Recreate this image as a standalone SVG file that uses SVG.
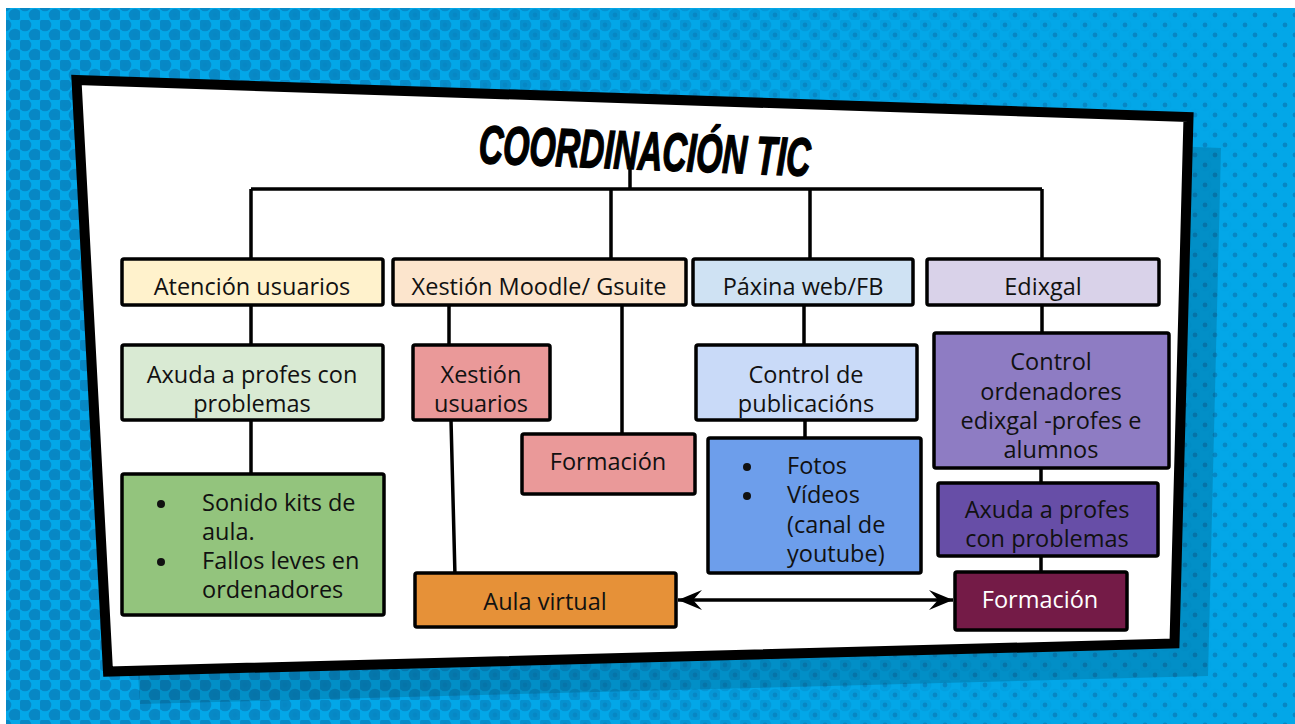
<svg xmlns="http://www.w3.org/2000/svg" width="1295" height="724" viewBox="0 0 1295 724">
<style>
.box{stroke:#000;stroke-width:3.5;stroke-linejoin:round}
.t{font-family:"Open Sans",Lato,"Liberation Sans",sans-serif;font-size:23.5px;fill:#111;text-anchor:middle}
.tl{font-family:"Open Sans",Lato,"Liberation Sans",sans-serif;font-size:23.5px;fill:#111}
.w{fill:#fff}
.ln{stroke:#000;stroke-width:3.5;fill:none}
</style>
<defs>
<pattern id="big" width="20" height="20" patternUnits="userSpaceOnUse">
<circle cx="5" cy="5" r="6.3" fill="#0787c4"/><circle cx="15" cy="15" r="6.3" fill="#0787c4"/>
</pattern>
<pattern id="small" width="20" height="20" patternUnits="userSpaceOnUse">
<circle cx="5" cy="5" r="2.4" fill="#0787c4"/><circle cx="15" cy="15" r="2.4" fill="#0787c4"/>
</pattern>
<linearGradient id="fade" x1="0" y1="0" x2="1" y2="0">
<stop offset="0" stop-color="#fff" stop-opacity="1"/>
<stop offset="0.3" stop-color="#fff" stop-opacity="0.9"/>
<stop offset="0.75" stop-color="#fff" stop-opacity="0.2"/>
<stop offset="1" stop-color="#fff" stop-opacity="0"/>
</linearGradient>
<mask id="m"><rect x="0" y="0" width="1295" height="724" fill="url(#fade)"/></mask>
<marker id="arr" markerUnits="userSpaceOnUse" markerWidth="30" markerHeight="24" viewBox="-26 -12 30 24" refX="0" refY="0" orient="auto-start-reverse">
<path d="M0,0 L-24,-10 L-15,0 L-24,10 Z" fill="#000"/>
</marker>
</defs>
<rect x="0" y="0" width="1295" height="724" fill="#fff"/>
<g id="background">
<rect x="6" y="8" width="1289" height="716" fill="#03a7e8"/>
<rect x="6" y="8" width="1289" height="716" fill="url(#small)"/>
<rect x="6" y="8" width="1289" height="716" fill="url(#big)" mask="url(#m)"/>
<polygon points="101,103 1221,148 1208,676 140,704" fill="#000" opacity="0.14"/>
</g>
<g id="panel">
<polygon points="76.5,80 1188.5,117 1174.5,643.5 108,671.5" fill="#fff" stroke="#000" stroke-width="10" stroke-linejoin="miter"/>
</g>
<g id="title">
<text x="644" y="169.5" transform="rotate(2.25 644 169.5)" text-anchor="middle" textLength="332" lengthAdjust="spacingAndGlyphs" style="font-family:'Liberation Sans',Arial,sans-serif;font-size:54px;font-weight:bold;font-style:italic;fill:#000;stroke:#000;stroke-width:1.5">COORDINACIÓN TIC</text>
</g>
<g id="connectors">
<path class="ln" d="M630,168 V189 M251,189 H1042 M251,189 V259 M611,189 V259 M810,189 V259 M1042,189 V259"/>
<path class="ln" d="M251,305 V345 M251,420 V474 M449,305 V345 M451,420 L455,576 M622,305 V433 M804,305 V345 M805,420 V438 M1042,305 V333 M1041,468 V483 M1041,556 V572"/>
<line class="ln" x1="678" y1="600" x2="953" y2="600" stroke-width="2.5" marker-start="url(#arr)" marker-end="url(#arr)"/>
</g>
<g id="atencion">
<rect class="box" x="122" y="259" width="261" height="46" rx="2" fill="#fff2cc"/>
<text class="t" x="252" y="295">Atención usuarios</text>
</g>
<g id="moodle">
<rect class="box" x="393" y="259" width="293" height="46" rx="2" fill="#fce5cd"/>
<text class="t" x="539" y="295">Xestión Moodle/ Gsuite</text>
</g>
<g id="paxina">
<rect class="box" x="693" y="259" width="220" height="46" rx="2" fill="#cfe2f3"/>
<text class="t" x="803" y="295">Páxina web/FB</text>
</g>
<g id="edixgal">
<rect class="box" x="927" y="259" width="232" height="46" rx="2" fill="#d9d2e9"/>
<text class="t" x="1043" y="295">Edixgal</text>
</g>
<g id="axuda1">
<rect class="box" x="122" y="345" width="261" height="75" rx="2" fill="#d9ead3"/>
<text class="t" x="252" y="383">Axuda a profes con</text>
<text class="t" x="252" y="412">problemas</text>
</g>
<g id="sonido">
<rect class="box" x="122" y="474" width="262" height="141" rx="2" fill="#93c47d"/>
<circle cx="161" cy="504" r="4" fill="#111"/>
<circle cx="161" cy="562" r="4" fill="#111"/>
<text class="tl" x="202" y="511">Sonido kits de</text>
<text class="tl" x="202" y="540">aula.</text>
<text class="tl" x="202" y="569">Fallos leves en</text>
<text class="tl" x="202" y="598">ordenadores</text>
</g>
<g id="xusuarios">
<rect class="box" x="413" y="345" width="137" height="75" rx="2" fill="#ea9999"/>
<text class="t" x="481" y="383">Xestión</text>
<text class="t" x="481" y="412">usuarios</text>
</g>
<g id="formacion1">
<rect class="box" x="522" y="434" width="173" height="60" rx="2" fill="#ea9999"/>
<text class="t" x="608" y="470">Formación</text>
</g>
<g id="aula">
<rect class="box" x="415" y="573" width="261" height="54" rx="2" fill="#e69138"/>
<text class="t" x="545" y="610">Aula virtual</text>
</g>
<g id="control">
<rect class="box" x="696" y="345" width="221" height="75" rx="2" fill="#c9daf8"/>
<text class="t" x="806" y="383">Control de</text>
<text class="t" x="806" y="412">publicacións</text>
</g>
<g id="fotos">
<rect class="box" x="708" y="438" width="213" height="135" rx="2" fill="#6d9eeb"/>
<circle cx="747" cy="467" r="4" fill="#111"/>
<circle cx="747" cy="496" r="4" fill="#111"/>
<text class="tl" x="787" y="474">Fotos</text>
<text class="tl" x="787" y="503">Vídeos</text>
<text class="tl" x="787" y="533">(canal de</text>
<text class="tl" x="787" y="562">youtube)</text>
</g>
<g id="controlord">
<rect class="box" x="934" y="333" width="235" height="135" rx="2" fill="#8e7cc3"/>
<text class="t" x="1051" y="370">Control</text>
<text class="t" x="1051" y="400">ordenadores</text>
<text class="t" x="1051" y="429">edixgal -profes e</text>
<text class="t" x="1051" y="458">alumnos</text>
</g>
<g id="axuda2">
<rect class="box" x="938" y="483" width="220" height="73" rx="2" fill="#674ea7"/>
<text class="t" x="1047" y="518">Axuda a profes</text>
<text class="t" x="1047" y="547">con problemas</text>
</g>
<g id="formacion2">
<rect class="box" x="955" y="572" width="172" height="58" rx="2" fill="#741b47"/>
<text class="t w" x="1040" y="608">Formación</text>
</g>
</svg>
